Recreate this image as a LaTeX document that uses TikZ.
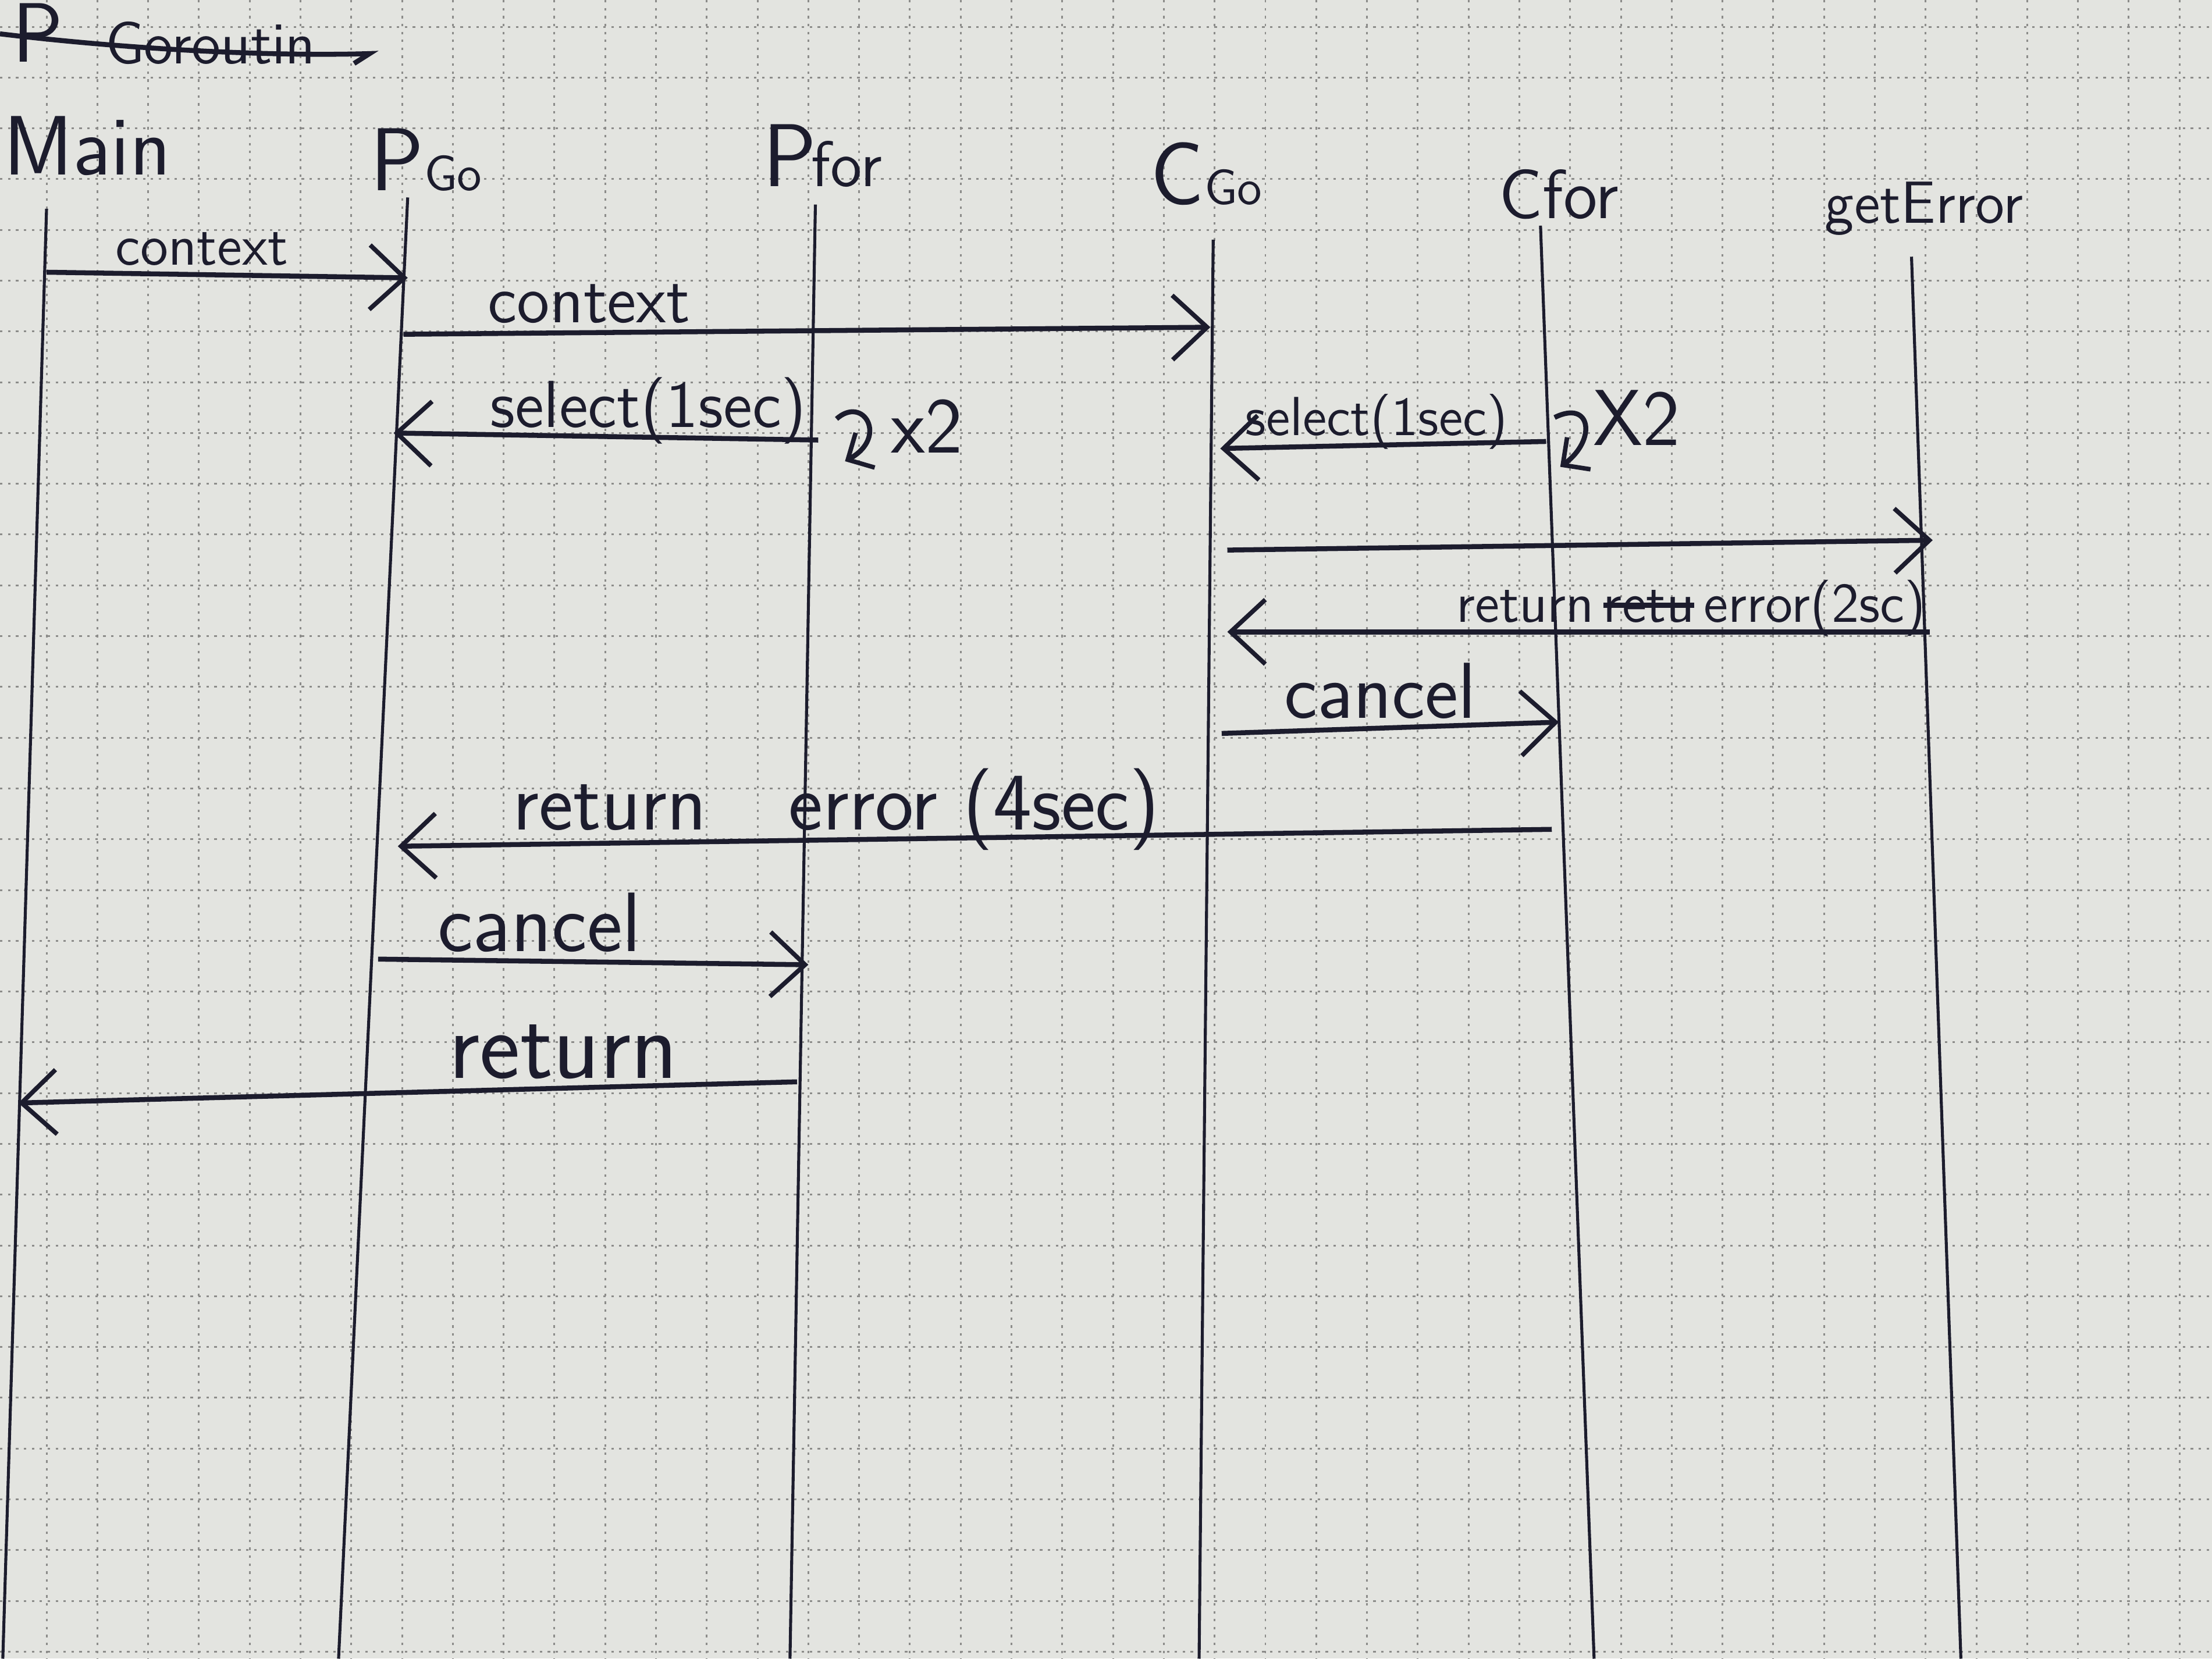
\documentclass[tikz,border=0pt]{standalone}
\usetikzlibrary{arrows.meta}
\definecolor{paper}{RGB}{227,228,224}
\definecolor{ink}{RGB}{28,28,45}
\definecolor{gridline}{RGB}{140,140,138}
\newcommand{\hand}[1]{\sffamily\fontsize{#1}{#1}\selectfont}
\newsavebox\strikebox
\newcommand{\struck}[1]{\sbox\strikebox{#1}\rlap{\rule[0.25em]{\wd\strikebox}{0.09em}}\usebox\strikebox}

\begin{document}
\begin{tikzpicture}[x=0.01cm,y=-0.01cm,
  lifeline/.style={ink,line width=0.6pt},
  msg/.style={ink,line width=1pt,-{Straight Barb[length=7pt,width=13pt,line width=0.9pt]}},
  loop/.style={ink,line width=1pt,-{Straight Barb[length=4pt,width=8pt,line width=0.9pt]}},
  msglabel/.style={ink,above,inner sep=1.5pt,text depth=0pt},
  head/.style={ink,inner sep=0pt,anchor=base west}]
\useasboundingbox (0,0) rectangle (1568,1176);
\fill[paper] (0,0) rectangle (1568,1176);
\foreach \gx in {33,69,...,1568}
  \draw[gridline,line width=0.35pt,dash pattern=on 0.5pt off 1.1pt] (\gx,0) -- (\gx,1176);
\foreach \gy in {19,55,...,1176}
  \draw[gridline,line width=0.35pt,dash pattern=on 0.5pt off 1.1pt] (0,\gy) -- (1568,\gy);

\node[head] (TitleP) at (8,44) {\hand{17}P};
\node[head] (Title) at (74,45) {\hand{12}Goroutin};
\draw[ink,line width=1pt] (0,24) .. controls (100,36) and (200,40) .. (262,38) -- (251,45);

\node[head] (Main) at (2,124) {\hand{17}Main};
\node[head] (PGo) at (262,135) {\hand{18}P\hand{10}Go};
\node[head] (PFor) at (540,132) {\hand{18}P\hand{13}\kern-1pt for};
\node[head] (CGo) at (815,145) {\hand{18}C\hand{10}Go};
\node[head] (CFor) at (1062,155) {\hand{14}Cfor};
\node[head] (GetError) at (1293,158) {\hand{12}getError};

\coordinate (MainTop) at (33,148);
\coordinate (MainBot) at (2,1176);
\coordinate (PGoTop) at (289,140);
\coordinate (PGoBot) at (240,1176);
\coordinate (PForTop) at (578,145);
\coordinate (PForBot) at (560,1176);
\coordinate (CGoTop) at (860,170);
\coordinate (CGoBot) at (850,1176);
\coordinate (CForTop) at (1092,160);
\coordinate (CForBot) at (1130,1176);
\coordinate (GetErrorTop) at (1355,182);
\coordinate (GetErrorBot) at (1390,1176);

\draw[lifeline] (MainTop) -- (MainBot);
\draw[lifeline] (PGoTop) -- (PGoBot);
\draw[lifeline] (PForTop) -- (PForBot);
\draw[lifeline] (CGoTop) -- (CGoBot);
\draw[lifeline] (CForTop) -- (CForBot);
\draw[lifeline] (GetErrorTop) -- (GetErrorBot);

\coordinate (MainCtx) at (33,193);
\coordinate (PGoCtx) at (289,197);
\coordinate (PGoCtxOut) at (286,237);
\coordinate (CGoCtx) at (858,232);
\coordinate (PForSel) at (580,312);
\coordinate (PGoSel) at (279,307);
\coordinate (CForSel) at (1096,313);
\coordinate (CGoSel) at (865,318);
\coordinate (CGoCall) at (870,390);
\coordinate (GetErrorCall) at (1370,383);
\coordinate (GetErrorRet) at (1368,448);
\coordinate (CGoRet) at (870,448);
\coordinate (CGoCancel) at (866,520);
\coordinate (CForCancel) at (1105,512);
\coordinate (CForRet) at (1100,588);
\coordinate (PGoRet) at (282,600);
\coordinate (PGoCancel) at (268,680);
\coordinate (PForCancel) at (573,684);
\coordinate (PForRet) at (565,767);
\coordinate (MainRet) at (13,782);

\draw[msg] (MainCtx) -- node[msglabel,pos=0.43,font=\hand{11.5}] {context} (PGoCtx);
\draw[msg] (PGoCtxOut) -- node[msglabel,pos=0.23,font=\hand{13.5}] {context} (CGoCtx);
\draw[msg] (PForSel) -- node[msglabel,pos=0.4,font=\hand{13.4}] {select(1sec)} (PGoSel);
\draw[msg] (CForSel) -- node[msglabel,pos=0.52,font=\hand{11.1}] {select(1sec)} (CGoSel);
\draw[msg] (CGoCall) -- (GetErrorCall);
\draw[msg] (GetErrorRet) -- node[msglabel,pos=0.34,font=\hand{11.3}] {return\,\struck{retu}\,error(2sc)} (CGoRet);
\draw[msg] (CGoCancel) -- node[msglabel,pos=0.47,font=\hand{16}] {cancel} (CForCancel);
\draw[msg] (CForRet) -- node[msglabel,pos=0.62,font=\hand{16.5}] {return\quad error (4sec)} (PGoRet);
\draw[msg] (PGoCancel) -- node[msglabel,pos=0.375,font=\hand{17}] {cancel} (PForCancel);
\draw[msg] (PForRet) -- node[msglabel,pos=0.3,font=\hand{19.5}] {return} (MainRet);

\coordinate (PForLoop) at (593,297);
\coordinate (PForLoopEnd) at (599,327);
\coordinate (CForLoop) at (1102,296);
\coordinate (CForLoopEnd) at (1106,331);
\draw[loop] (PForLoop) .. controls (612,280) and (630,310) .. (PForLoopEnd);
\draw[loop] (CForLoop) .. controls (1128,283) and (1132,312) .. (CForLoopEnd);
\node[ink] (PForRepeat) at (657,302) {\hand{16}x2};
\node[ink] (CForRepeat) at (1160,296) {\hand{16}X2};
\end{tikzpicture}
\end{document}
